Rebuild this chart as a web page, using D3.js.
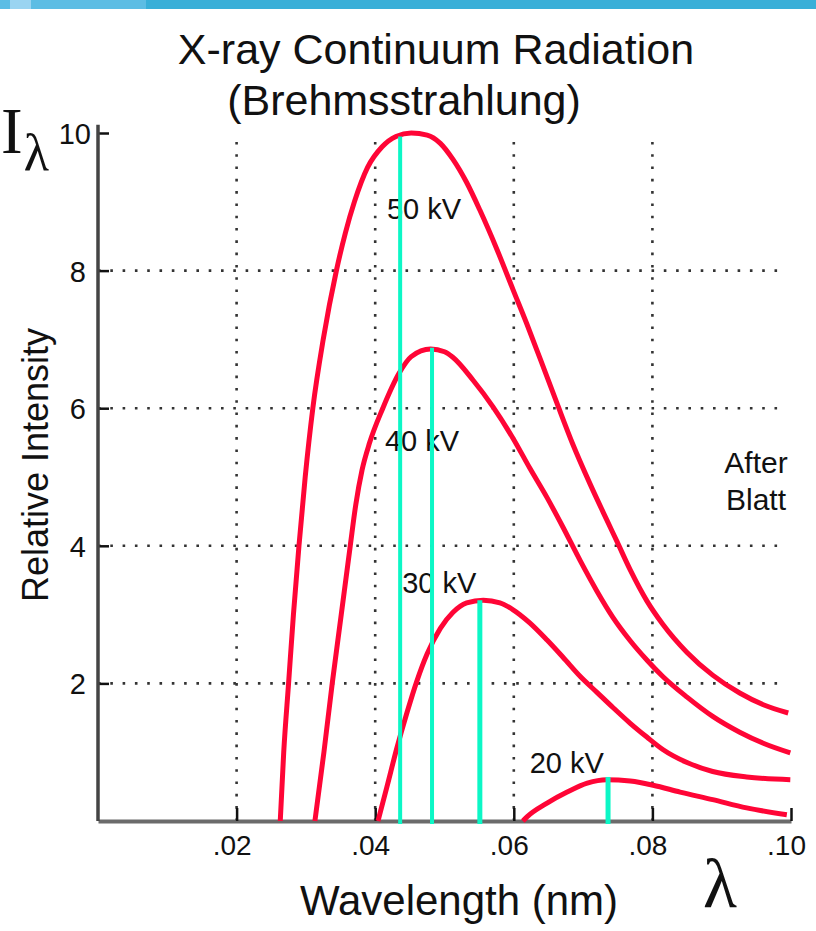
<!DOCTYPE html>
<html>
<head>
<meta charset="utf-8">
<script src="https://cdn.jsdelivr.net/npm/d3@7"></script>
<style>
  body { margin: 0; background: #fff; }
  svg { display: block; }
  text { font-family: "Liberation Sans", Arial, Helvetica, sans-serif; fill: #111; }
</style>
</head>
<body>
<div id="chart"></div>
<script>
// wavelength (nm), relative intensity
var kv50 = [[0.0263,0],[0.0268,1.0],[0.0275,2.0],[0.0282,3.0],[0.0290,4.0],[0.0299,5.0],
  [0.0310,6.0],[0.0325,7.0],[0.0344,8.0],[0.0357,8.55],[0.0370,9.0],[0.0389,9.5],
  [0.0410,9.8],[0.0430,9.95],[0.0452,10.0],[0.0475,9.97],[0.0494,9.85],[0.0512,9.62],
  [0.0532,9.28],[0.0551,8.88],[0.0576,8.30],[0.0599,7.72],[0.0619,7.22],[0.0638,6.72],
  [0.0662,6.08],[0.0685,5.48],[0.0710,4.90],[0.0734,4.38],[0.0749,4.06],[0.0768,3.65],
  [0.0792,3.20],[0.0815,2.86],[0.0850,2.45],[0.0887,2.12],[0.0926,1.86],[0.0960,1.69],
  [0.0996,1.57]];
var kv40 = [[0.0313,0],[0.0326,1.0],[0.0338,2.0],[0.0351,3.0],[0.0364,4.0],[0.0372,4.6],
  [0.0381,5.1],[0.0392,5.5],[0.0411,6.0],[0.0434,6.5],[0.0452,6.75],[0.0480,6.86],[0.0500,6.82],
  [0.0512,6.74],[0.0541,6.41],[0.0570,6.02],[0.0599,5.56],[0.0623,5.13],[0.0648,4.70],
  [0.0671,4.27],[0.0696,3.78],[0.0720,3.34],[0.0743,2.96],[0.0768,2.62],[0.0792,2.34],
  [0.0815,2.10],[0.0850,1.80],[0.0887,1.52],[0.0926,1.29],[0.0960,1.13],[0.0999,0.99]];
var kv30 = [[0.0404,0],[0.0417,0.50],[0.0431,1.05],[0.0446,1.58],[0.0460,2.03],[0.0475,2.43],
  [0.0494,2.80],[0.0512,3.03],[0.0532,3.17],[0.0556,3.21],[0.0580,3.17],[0.0599,3.07],
  [0.0623,2.88],[0.0648,2.63],[0.0671,2.38],[0.0696,2.10],[0.0720,1.87],[0.0743,1.65],
  [0.0768,1.42],[0.0792,1.22],[0.0815,1.04],[0.0850,0.85],[0.0887,0.72],[0.0936,0.64],
  [0.0999,0.60]];
var kv20 = [[0.0613,0],[0.0619,0.06],[0.0648,0.26],[0.0677,0.42],[0.0706,0.55],[0.0734,0.60],
  [0.0768,0.58],[0.0801,0.52],[0.0840,0.42],[0.0887,0.31],[0.0936,0.19],[0.0994,0.09]];

var voltages = ["50 kV", "40 kV", "30 kV", "20 kV"];
var peakWavelength = [0.0436, 0.0482, 0.0551, 0.0736];
var peakIntensity = [9.95, 6.88, 3.21, 0.64];

var xTicks = [0.02, 0.04, 0.06, 0.08, 0.10];
var yTicks = [2, 4, 6, 8, 10];
var gridX = [0.02, 0.04, 0.06, 0.08];
var gridY = [2, 4, 6, 8];

//////////////////////////////////////////////////////////////////////////////

var width = 816, height = 931;
var svg = d3.select("#chart").append("svg")
  .attr("width", width)
  .attr("height", height);

var x = d3.scaleLinear().domain([0, 0.1]).range([98, 791]);
var y = d3.scaleLinear().domain([0, 10]).range([821, 133]);

// blue strip along the top
var strip = [[0, 10, "#5bbde5"], [10, 31, "#9ad4f1"], [31, 146, "#5dbde4"], [146, 816, "#39afd8"]];
svg.selectAll("rect.strip")
  .data(strip)
  .enter()
  .append("rect")
  .attr("class", "strip")
  .attr("x", function(d) { return d[0]; })
  .attr("y", 0)
  .attr("width", function(d) { return d[1] - d[0]; })
  .attr("height", 9)
  .attr("fill", function(d) { return d[2]; });

// dotted grid
svg.selectAll("line.gx")
  .data(gridX)
  .enter()
  .append("line")
  .attr("x1", function(d) { return x(d); })
  .attr("x2", function(d) { return x(d); })
  .attr("y1", y(0))
  .attr("y2", y(9.93))
  .attr("stroke", "#333")
  .attr("stroke-width", 2.6)
  .attr("stroke-dasharray", "2.6,9.7");

svg.selectAll("line.gy")
  .data(gridY)
  .enter()
  .append("line")
  .attr("x1", x(0))
  .attr("x2", x(0.0992))
  .attr("y1", function(d) { return y(d); })
  .attr("y2", function(d) { return y(d); })
  .attr("stroke", "#333")
  .attr("stroke-width", 2.6)
  .attr("stroke-dasharray", "2.6,9.7");

// axes
var xAxis = svg.append("g")
  .attr("transform", "translate(0," + y(0) + ")")
  .call(d3.axisBottom(x)
    .tickValues(xTicks)
    .tickSizeInner(-13)
    .tickSizeOuter(0)
    .tickPadding(14)
    .tickFormat(function(d) { return d3.format(".2f")(d).replace(/^0/, ""); }));
xAxis.select(".domain").attr("stroke", "#6b6b6b").attr("stroke-width", 4);
xAxis.selectAll(".tick line").attr("stroke", "#111").attr("stroke-width", 2.5);
xAxis.selectAll(".tick text")
  .attr("font-size", 28)
  .attr("font-family", "Liberation Sans, Arial, sans-serif")
  .attr("fill", "#111")
  .attr("dx", -5);

var yAxis = svg.append("g")
  .attr("transform", "translate(" + x(0) + ",0)")
  .call(d3.axisLeft(y)
    .tickValues(yTicks)
    .tickSizeInner(-11)
    .tickSizeOuter(0)
    .tickPadding(12)
    .tickFormat(d3.format("d")));
yAxis.select(".domain").remove();
yAxis.append("line")
  .attr("y1", y(0))
  .attr("y2", y(10.12))
  .attr("stroke", "#444")
  .attr("stroke-width", 3.5);
yAxis.selectAll(".tick line").attr("stroke", "#111").attr("stroke-width", 2.5);
yAxis.selectAll(".tick text")
  .attr("font-size", 29)
  .attr("font-family", "Liberation Sans, Arial, sans-serif")
  .attr("fill", "#111")
  .attr("dy", "0.36em")
  .attr("dx", function(d) { return d === 10 ? 5 : 0; });

// curves
var line = d3.line()
  .x(function(d) { return x(d[0]); })
  .y(function(d) { return y(d[1]); })
  .curve(d3.curveMonotoneX);

svg.selectAll("path.curve")
  .data([kv50, kv40, kv30, kv20])
  .enter()
  .append("path")
  .attr("class", "curve")
  .attr("d", line)
  .attr("fill", "none")
  .attr("stroke", "#ff0536")
  .attr("stroke-width", 5);

// curve labels (placed in data units)
var labelAt = [[0.0417, 8.75], [0.0414, 5.38], [0.0439, 3.32], [0.0623, 0.70]];
svg.selectAll("text.kv")
  .data(voltages)
  .enter()
  .append("text")
  .attr("class", "kv")
  .attr("x", function(d, i) { return x(labelAt[i][0]); })
  .attr("y", function(d, i) { return y(labelAt[i][1]); })
  .attr("font-size", 29)
  .text(function(d) { return d; });

// peak markers
var peakWidth = [4, 4, 5, 5];
svg.selectAll("line.peak")
  .data(peakWavelength)
  .enter()
  .append("line")
  .attr("x1", function(d) { return x(d); })
  .attr("x2", function(d) { return x(d); })
  .attr("y1", y(0) + 3)
  .attr("y2", function(d, i) { return y(peakIntensity[i]); })
  .attr("stroke", "#0cf7c6")
  .attr("stroke-width", function(d, i) { return peakWidth[i]; });

// texts
svg.append("text")
  .attr("x", 436).attr("y", 64)
  .attr("text-anchor", "middle")
  .attr("font-size", 43)
  .text("X-ray Continuum Radiation");
svg.append("text")
  .attr("x", 404).attr("y", 115)
  .attr("text-anchor", "middle")
  .attr("font-size", 43)
  .text("(Brehmsstrahlung)");

svg.append("text")
  .attr("transform", "translate(48,465) rotate(-90)")
  .attr("text-anchor", "middle")
  .attr("font-size", 36)
  .text("Relative Intensity");

svg.append("text")
  .attr("x", 459).attr("y", 915)
  .attr("text-anchor", "middle")
  .attr("font-size", 42)
  .text("Wavelength (nm)");

svg.append("text")
  .attr("x", 756).attr("y", 473)
  .attr("text-anchor", "middle")
  .attr("font-size", 30)
  .text("After");
svg.append("text")
  .attr("x", 756).attr("y", 510)
  .attr("text-anchor", "middle")
  .attr("font-size", 30)
  .text("Blatt");

// I lambda and lambda symbols
var symbol = svg.append("text")
  .attr("x", 1).attr("y", 153)
  .style("font-family", "Liberation Serif, Times New Roman, serif")
  .attr("font-size", 65)
  .text("I");
symbol.append("tspan")
  .attr("font-size", 52)
  .attr("dx", 1)
  .attr("dy", 17)
  .text("λ");

svg.append("text")
  .attr("x", 703).attr("y", 907)
  .style("font-family", "Liberation Serif, Times New Roman, serif")
  .attr("font-size", 70)
  .text("λ");
</script>
</body>
</html>
